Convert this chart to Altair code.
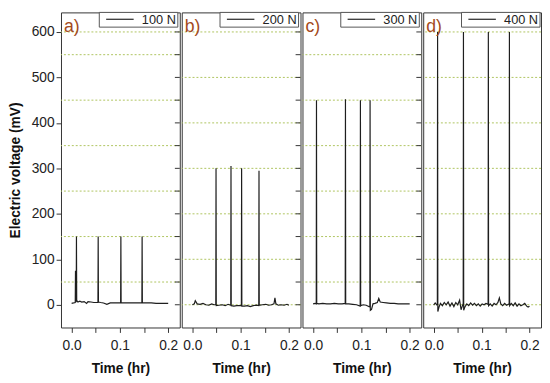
import altair as alt
import pandas as pd

# (time in hr, voltage in mV)
a_points = [(0.000, 3), (0.004, 4), (0.0075, 5), (0.008, 75), (0.0085, 9), (0.0095, 8), (0.010, 150),
            (0.0105, 10), (0.013, 6), (0.017, 8), (0.021, 6), (0.026, 7), (0.031, 3), (0.034, 7),
            (0.040, 6), (0.046, 5), (0.0545, 5), (0.055, 150), (0.0555, 6), (0.060, 5), (0.066, 4),
            (0.073, 1), (0.080, 4), (0.088, 4), (0.095, 4), (0.1015, 4), (0.102, 150), (0.1025, 4),
            (0.110, 4), (0.120, 4), (0.130, 4), (0.1455, 4), (0.146, 150), (0.1465, 4), (0.155, 4),
            (0.165, 4), (0.175, 3), (0.185, 3), (0.195, 3), (0.200, 3)]
b_points = [(0.000, 0), (0.004, 2), (0.006, 9), (0.010, 2), (0.016, 1), (0.022, 3), (0.028, 0),
            (0.034, -1), (0.040, 2), (0.045, 0), (0.0485, 0), (0.049, 300), (0.0495, -2), (0.055, -1),
            (0.062, 0), (0.068, -2), (0.074, 1), (0.0795, -1), (0.080, 305), (0.0805, -2), (0.086, -3),
            (0.092, -2), (0.097, -2), (0.1015, -2), (0.102, 300), (0.1025, -3), (0.108, -3), (0.114, -2),
            (0.120, -4), (0.126, -2), (0.132, -1), (0.1375, -2), (0.138, 295), (0.1385, -1), (0.145, 0),
            (0.152, 1), (0.158, -1), (0.164, 0), (0.169, 2), (0.171, 15), (0.173, 2), (0.178, -1),
            (0.184, 0), (0.190, -1), (0.196, 1), (0.200, -1)]
c_points = [(0.000, 2), (0.004, 3), (0.0065, 2), (0.007, 450), (0.0075, 3), (0.012, 2), (0.020, 3),
            (0.028, 2), (0.036, 2), (0.044, 3), (0.052, 2), (0.060, 2), (0.0665, 3), (0.067, 452),
            (0.0675, 2), (0.074, 2), (0.082, 1), (0.090, 0), (0.0975, -3), (0.098, 450), (0.0985, -2),
            (0.104, 0), (0.110, -1), (0.1175, -5), (0.118, 450), (0.1185, -12), (0.121, -10), (0.124, 2),
            (0.128, 3), (0.133, 5), (0.136, 14), (0.139, 6), (0.145, 5), (0.152, 4), (0.160, 3),
            (0.168, 3), (0.176, 2), (0.184, 2), (0.192, 2), (0.200, 2)]
d_points = [(0.000, 0), (0.003, 4), (0.006, 0), (0.0075, 2), (0.008, 600), (0.0085, -15), (0.011, -5),
            (0.014, 3), (0.018, -2), (0.022, 5), (0.026, 0), (0.030, 6), (0.034, -3), (0.038, 4),
            (0.042, -4), (0.046, 5), (0.050, 0), (0.054, 10), (0.057, -11), (0.0615, 3), (0.062, 600),
            (0.0625, -12), (0.065, -5), (0.069, 2), (0.073, -2), (0.077, 4), (0.081, -1), (0.085, 3),
            (0.089, -2), (0.093, 2), (0.097, -3), (0.101, 2), (0.105, 0), (0.109, 3), (0.1135, 1),
            (0.114, 600), (0.1145, -2), (0.118, 2), (0.122, -3), (0.126, 3), (0.130, 0), (0.134, 5),
            (0.137, 15), (0.140, 2), (0.144, -2), (0.148, 3), (0.152, -1), (0.1575, 2), (0.158, 600),
            (0.1585, -2), (0.162, 3), (0.166, -2), (0.170, 4), (0.174, -3), (0.178, 2), (0.182, -2),
            (0.186, 0), (0.190, 3), (0.194, -3), (0.197, -5), (0.200, -3)]

loads = ["100 N", "200 N", "300 N", "400 N"]
tags = ["a)", "b)", "c)", "d)"]
grid_a = [50, 150, 250, 350, 450, 550, 600]
grid_b = [0, 100, 200, 300, 400, 500, 600]
grid_c = [50, 150, 250, 350, 450, 550]
grid_d = [0, 100, 200, 300, 400, 500, 600]
y_ticks = [0, 100, 200, 300, 400, 500, 600]
edge_ticks = [0, 50, 100, 150, 200, 250, 300, 350, 400, 450, 500, 550, 600]
x_ticks = [0.0, 0.05, 0.1, 0.15, 0.2]

FONT = "Liberation Sans"
H = 321
widths = [121, 121, 121, 120]
x_scale = alt.Scale(domain=[-0.022, 0.224], nice=False, zero=False)
y_scale = alt.Scale(domain=[-50, 643], nice=False, zero=False)

x_axis = alt.Axis(values=x_ticks, title="Time (hr)",
                  labelExpr="round(datum.value*100) % 10 == 0 ? format(datum.value, '.1f') : ''",
                  labelPadding=6, titlePadding=10, labelOverlap=False, labelFlush=False)


def panel(points, grid, load, tag, first, right_ticks, W):
    df = pd.DataFrame({"t": [p[0] for p in points], "v": [p[1] for p in points]})
    df["o"] = range(len(df))
    if first:
        y_axis = alt.Axis(values=y_ticks, title="Electric voltage (mV)", labelPadding=2, titlePadding=9)
    else:
        y_axis = None
    gdf = pd.DataFrame({"v": grid})
    gridl = alt.Chart(gdf).mark_rule(color="#aec45f", strokeDash=[2, 2], strokeWidth=1).encode(
        y=alt.Y("v:Q", scale=y_scale, axis=y_axis))
    line = alt.Chart(df).mark_line(color="#1e1e1e", strokeWidth=1.2, clip=True).encode(
        x=alt.X("t:Q", scale=x_scale, axis=x_axis),
        y=alt.Y("v:Q", scale=y_scale, axis=y_axis),
        order="o:Q")
    layers = [gridl, line]
    if right_ticks:
        tdf = pd.DataFrame({"v": edge_ticks})
        layers.append(alt.Chart(tdf).mark_rule(color="#333333", strokeWidth=1).encode(
            y=alt.Y("v:Q", scale=y_scale, axis=y_axis), x=alt.value(W - 5), x2=alt.value(W)))
    one = pd.DataFrame({"k": [0]})
    box = alt.Chart(one).mark_rect(fill="white", stroke="#555555", strokeWidth=1).encode(
        x=alt.value(39), x2=alt.value(119), y=alt.value(0), y2=alt.value(15))
    legline = alt.Chart(one).mark_rule(color="#222222", strokeWidth=1.2).encode(
        x=alt.value(46), x2=alt.value(74), y=alt.value(7))
    legtext = alt.Chart(one).mark_text(align="right", baseline="middle", fontSize=13, font=FONT,
                                       color="#222222").encode(
        x=alt.value(117), y=alt.value(8), text=alt.value(load))
    tagtext = alt.Chart(one).mark_text(align="left", baseline="middle", fontSize=18, font=FONT,
                                       color="#a44a20").encode(
        x=alt.value(3), y=alt.value(15), text=alt.value(tag))
    layers += [box, legline, legtext, tagtext]
    return alt.layer(*layers).properties(width=W, height=H)


panels = [
    panel(a_points, grid_a, loads[0], tags[0], True, True, widths[0]),
    panel(b_points, grid_b, loads[1], tags[1], False, True, widths[1]),
    panel(c_points, grid_c, loads[2], tags[2], False, True, widths[2]),
    panel(d_points, grid_d, loads[3], tags[3], False, False, widths[3]),
]

chart = alt.hconcat(*panels, spacing=0).properties(
    padding={"left": 0, "top": 0, "right": 0, "bottom": 0}
).configure_view(stroke="#333333", strokeWidth=1).configure_axis(
    labelFont=FONT, labelFontSize=14, labelColor="#222222",
    titleFont=FONT, titleFontSize=14, titleFontWeight="bold", titleColor="#111111",
    tickColor="#333333", tickSize=5, domain=False, grid=False
)

chart.save("out.html", embed_options={"renderer": "svg", "actions": False})
